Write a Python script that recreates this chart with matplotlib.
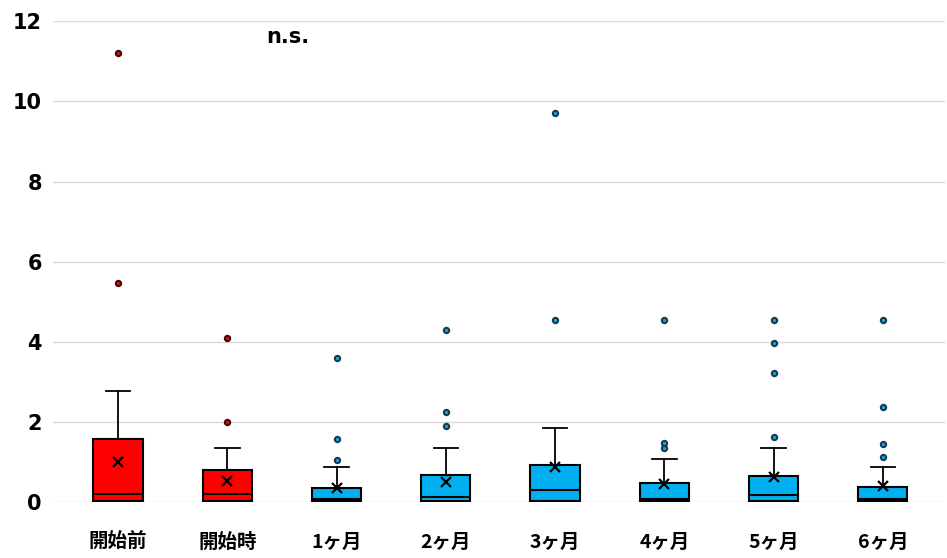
import matplotlib
matplotlib.use("Agg")
import matplotlib.pyplot as plt

plt.rcParams['font.family'] = ['Noto Sans CJK JP', 'DejaVu Sans']

categories = ["開始前", "開始時", "1ヶ月", "2ヶ月", "3ヶ月", "4ヶ月", "5ヶ月", "6ヶ月"]
q1 = [0.02, 0.02, 0.02, 0.02, 0.02, 0.02, 0.02, 0.02]
medians = [0.20, 0.20, 0.08, 0.13, 0.30, 0.09, 0.18, 0.07]
q3 = [1.58, 0.80, 0.35, 0.67, 0.92, 0.48, 0.66, 0.38]
whisker_hi = [2.78, 1.34, 0.88, 1.36, 1.86, 1.08, 1.36, 0.88]
means = [1.01, 0.53, 0.36, 0.51, 0.89, 0.46, 0.64, 0.41]
outliers = [
    [5.47, 11.2],
    [2.0, 4.1],
    [1.05, 1.57, 3.6],
    [1.9, 2.26, 4.3],
    [4.55, 9.72],
    [1.36, 1.48, 4.55],
    [1.63, 3.23, 3.98, 4.55],
    [1.12, 1.46, 2.38, 4.55],
]
group_colors = ["#FF0000", "#FF0000"] + ["#00B0F0"] * 6
flier_edges = ["#3a0a0a", "#3a0a0a"] + ["#173a52"] * 6

fig = plt.figure(figsize=(9.47, 5.58), dpi=100)
ax = fig.add_axes([0.056, 0.100, 0.942, 0.862])

positions = list(range(1, len(categories) + 1))
for i, pos in enumerate(positions):
    stats = [{
        "med": medians[i], "q1": q1[i], "q3": q3[i],
        "whislo": q1[i], "whishi": whisker_hi[i],
        "mean": means[i], "fliers": outliers[i],
    }]
    ax.bxp(
        stats, positions=[pos], widths=0.45, patch_artist=True,
        showmeans=True, showfliers=True,
        boxprops=dict(facecolor=group_colors[i], edgecolor="black", linewidth=1.5),
        medianprops=dict(color="black", linewidth=1.5),
        whiskerprops=dict(color="black", linewidth=1.3),
        capprops=dict(color="black", linewidth=1.3),
        meanprops=dict(marker="x", markeredgecolor="black", markersize=7,
                       markeredgewidth=1.6),
        flierprops=dict(marker="o", markersize=3.8, markerfacecolor=group_colors[i],
                        markeredgecolor=flier_edges[i], markeredgewidth=1.5),
        zorder=3,
    )

ax.set_xlim(0.405, 8.57)
ax.set_ylim(0, 12)
ax.set_yticks(range(0, 13, 2))
ax.set_xticks(positions)
ax.set_xticklabels(categories, fontsize=14, fontweight="bold")
for lbl in ax.get_yticklabels():
    lbl.set_fontsize(15)
    lbl.set_fontweight("bold")
    lbl.set_family("DejaVu Sans")
ax.tick_params(axis="both", length=0)
ax.tick_params(axis="x", pad=22)
ax.tick_params(axis="y", pad=8)
ax.yaxis.grid(True, color="#D9D9D9", linewidth=1.0, zorder=0)
ax.set_axisbelow(True)
for side in ["top", "right", "left", "bottom"]:
    ax.spines[side].set_visible(False)

ax.text(2.55, 11.6, "n.s.", ha="center", va="center", fontsize=15,
        fontweight="bold", family="DejaVu Sans")

fig.savefig("out.png", dpi=100)
